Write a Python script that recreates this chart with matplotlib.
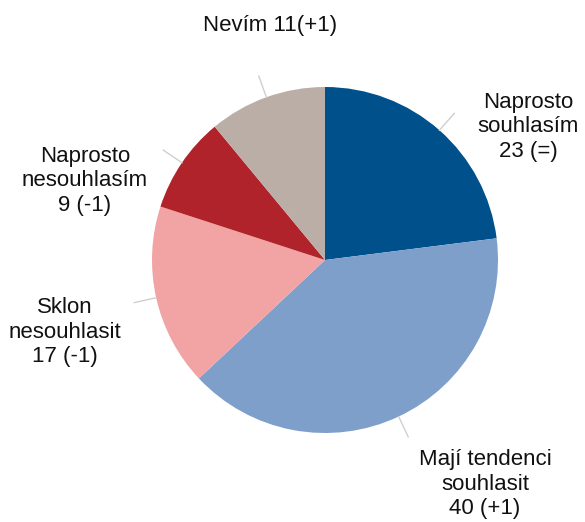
import numpy as np
import matplotlib.pyplot as plt

plt.rcParams['font.family'] = ['Liberation Sans', 'DejaVu Sans']

# answers, clockwise from 12 o'clock
categories = ['Naprosto souhlasím', 'Mají tendenci souhlasit', 'Sklon nesouhlasit',
              'Naprosto nesouhlasím', 'Nevím']
values = [23, 40, 17, 9, 11]
changes = ['(=)', '(+1)', '(-1)', '(-1)', '(+1)']
colors = ['#00508C', '#7F9FCB', '#F2A3A3', '#B0232B', '#BBAEA7']

W, H = 585, 522
fig = plt.figure(figsize=(W / 100, H / 100), dpi=100)

# pie centre at (325, 260) px, radius ~173 px
cx, cy, r = 325, 260, 173
ax = fig.add_axes([(cx - r) / W, (H - cy - r) / H, 2 * r / W, 2 * r / H])
wedges, _ = ax.pie(values, colors=colors, startangle=90, counterclock=False,
                   radius=1, wedgeprops=dict(linewidth=0))
ax.set_xlim(-1, 1)
ax.set_ylim(-1, 1)
ax.set_aspect('equal')
ax.axis('off')

# short grey leader lines at the middle of each slice
for w in wedges:
    ang = np.deg2rad((w.theta1 + w.theta2) / 2)
    r1, r2 = 1.0, 1.13
    ax.plot([r1 * np.cos(ang), r2 * np.cos(ang)], [r1 * np.sin(ang), r2 * np.sin(ang)],
            color='#CFCFCF', lw=1, clip_on=False)

# label boxes: (x, y) centre in pixels
label_text = [
    'Naprosto\nsouhlasím\n23 (=)',
    'Mají tendenci\nsouhlasit\n40 (+1)',
    'Sklon\nnesouhlasit\n17 (-1)',
    'Naprosto\nnesouhlasím\n9 (-1)',
    'Nevím 11(+1)',
]
label_pos = [(528, 127), (485, 484), (65, 332), (85, 181), (270, 26)]
for txt, (x, y) in zip(label_text, label_pos):
    fig.text(x / W, 1 - y / H, txt, ha='center', va='center', fontsize=16,
             linespacing=1.2, color='#111111')

fig.savefig('out.png', dpi=100)
